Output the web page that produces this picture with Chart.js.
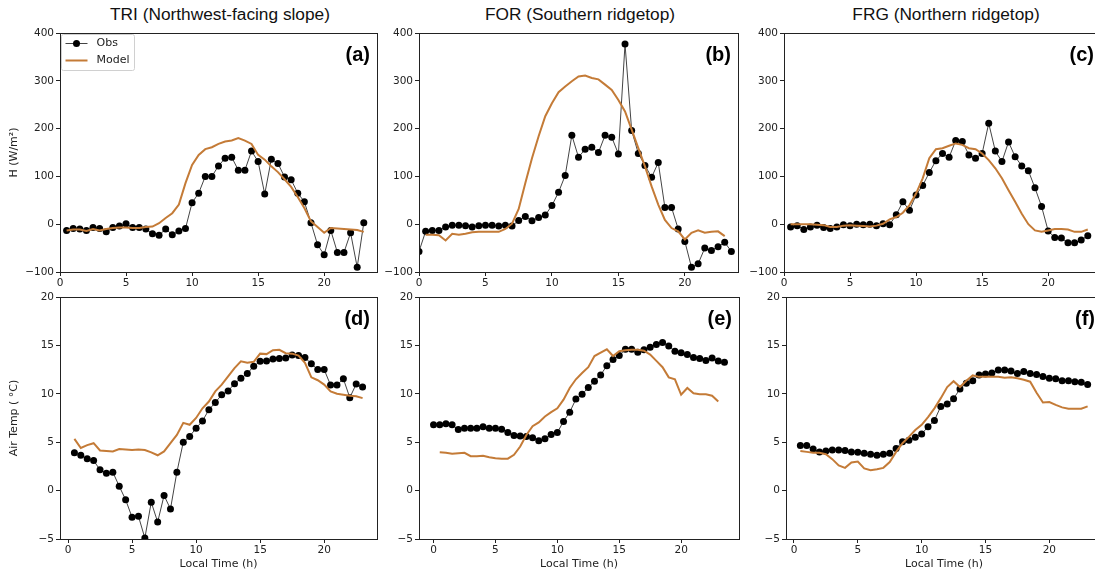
<!DOCTYPE html>
<html lang="en">
  <head>
    <meta charset="UTF-8" />
    <title>H and Air Temp - Obs vs Model</title>
    <script src="https://cdn.jsdelivr.net/npm/chart.js"></script>
    <style>
      body {
        margin: 0;
        width: 1095px;
        height: 574px;
        overflow: hidden;
        background: #fff;
        position: relative;
      }
      .titulo {
        position: absolute;
        top: 4px;
        width: 360px;
        text-align: center;
        font-family: "Liberation Sans", Arial, sans-serif;
        font-size: 17.3px;
        color: #111;
      }
      canvas {
        position: absolute;
      }
    </style>
  </head>
  <body>
    <div class="titulo" style="left: 40px">TRI (Northwest-facing slope)</div>
    <div class="titulo" style="left: 400px">FOR (Southern ridgetop)</div>
    <div class="titulo" style="left: 766px">FRG (Northern ridgetop)</div>

    <canvas id="chartA"></canvas>
    <canvas id="chartB"></canvas>
    <canvas id="chartC"></canvas>
    <canvas id="chartD"></canvas>
    <canvas id="chartE"></canvas>
    <canvas id="chartF"></canvas>
  </body>
</html>

<script>
  // local time (h), half hourly
  const hoursHalf = [0.5, 1, 1.5, 2, 2.5, 3, 3.5, 4, 4.5, 5, 5.5, 6, 6.5, 7, 7.5, 8, 8.5, 9, 9.5,
    10, 10.5, 11, 11.5, 12, 12.5, 13, 13.5, 14, 14.5, 15, 15.5, 16, 16.5, 17, 17.5, 18, 18.5, 19, 19.5,
    20, 20.5, 21, 21.5, 22, 22.5, 23];
  const hoursAll = [0, 0.5, 1, 1.5, 2, 2.5, 3, 3.5, 4, 4.5, 5, 5.5, 6, 6.5, 7, 7.5, 8, 8.5, 9, 9.5,
    10, 10.5, 11, 11.5, 12, 12.5, 13, 13.5, 14, 14.5, 15, 15.5, 16, 16.5, 17, 17.5, 18, 18.5, 19, 19.5,
    20, 20.5, 21, 21.5, 22, 22.5, 23, 23.5];

  // sensible heat flux H (W/m2)
  const obsHTri = [-13, -9, -10, -13, -7, -9, -16, -7, -4, 1, -7, -7, -10, -20, -23, -10, -22, -14, -9,
    45, 65, 100, 100, 122, 138, 140, 113, 113, 153, 131, 63, 136, 127, 99, 93, 65, 47, 3, -43,
    -64, -13, -59, -59, -18, -90, 3];
  const modelHTri = [-13, -11, -11, -14, -10, -13, -10, -8, -7, -7, -8, -8, -6, -5, 2, 13, 23, 41, 86,
    124, 145, 157, 161, 168, 173, 175, 180, 175, 168, 145, 135, 121, 109, 94, 78, 57, 34, 6, -6,
    -18, -8, -9, -10, -11, -12, -16];

  const obsHFor = [-57, -15, -13, -13, -6, -2, -2, -3, -6, -3, -2, -2, -4, -2, -4, 8, 16, 7, 14, 19,
    39, 67, 102, 186, 140, 157, 161, 150, 186, 182, 147, 377, 196, 148, 123, 98, 129, 35, 35, -10,
    -36, -90, -83, -50, -55, -47, -38, -57];
  const modelHFor = [-22, -22, -23, -34, -20, -22, -20, -17, -16, -16, -16, -16, -10, 1, 32, 86, 138, 184, 226,
    253, 276, 288, 299, 309, 311, 306, 303, 292, 281, 260, 236, 198, 159, 121, 79, 41, 9, -8, -15,
    -32, -18, -13, -18, -16, -15, -25];

  const obsHFrg = [-6, -3, -11, -6, -2, -7, -9, -6, -1, -3, 0, -1, 0, -3, 1, -1, 20, 47, 29,
    61, 81, 108, 133, 148, 140, 175, 173, 145, 138, 148, 211, 153, 131, 172, 141, 122, 112, 76, 37,
    -14, -28, -29, -39, -39, -33, -24];
  const modelHFrg = [0, 0, 0, 0, -1, -2, -6, -6, -3, -2, -3, -4, -5, -3, 1, 10, 15, 24, 40,
    64, 96, 138, 157, 159, 164, 169, 166, 159, 157, 148, 134, 117, 96, 71, 47, 22, 0, -13, -16,
    -13, -10, -10, -11, -16, -16, -11];

  // air temperature (C)
  const obsTTri = [3.9, 3.65, 3.3, 3.1, 2.15, 1.8, 1.9, 0.45, -0.95, -2.75, -2.65, -4.9, -1.2, -3.25, -0.5, -1.9, 1.9, 5.0, 5.6,
    6.45, 7.2, 8.35, 9.1, 9.9, 10.3, 11.05, 11.6, 12.1, 12.85, 13.35, 13.4, 13.6, 13.65, 13.7, 14.0, 13.95, 13.75, 13.1, 12.5,
    12.5, 10.9, 10.9, 11.55, 9.6, 11.0, 10.7];
  const modelTTri = [5.35, 4.4, 4.7, 4.9, 4.15, 4.1, 4.05, 4.3, 4.25, 4.2, 4.25, 4.2, 3.95, 3.65, 4.05, 4.9, 5.75, 7.0, 6.8,
    7.5, 8.5, 9.2, 10.25, 10.95, 11.8, 12.65, 13.35, 13.2, 13.3, 14.15, 14.1, 14.5, 14.55, 14.2, 14.15, 13.95, 13.2, 11.7, 11.4,
    10.95, 10.25, 10.0, 9.9, 9.8, 9.75, 9.55];

  const obsTFor = [6.8, 6.8, 6.9, 6.8, 6.3, 6.45, 6.45, 6.45, 6.6, 6.45, 6.45, 6.35, 6.0, 5.7, 5.65, 5.6, 5.45, 5.15, 5.35, 5.8,
    6.0, 7.15, 8.1, 9.45, 9.95, 10.65, 11.3, 11.95, 12.9, 13.55, 13.95, 14.6, 14.6, 14.3, 14.55, 14.8, 15.1, 15.3, 14.95, 14.4,
    14.25, 14.05, 13.75, 13.65, 13.45, 13.7, 13.4, 13.25];
  const modelTFor = [3.95, 3.9, 3.8, 3.85, 3.9, 3.55, 3.55, 3.6, 3.45, 3.35, 3.3, 3.3, 3.7, 4.55, 5.75, 6.65, 7.05, 7.65, 8.1,
    8.5, 9.4, 10.6, 11.5, 12.15, 12.75, 13.9, 14.25, 14.6, 13.9, 14.4, 14.5, 14.55, 14.55, 14.45, 14.05, 13.4, 12.75, 11.7, 11.5,
    9.9, 10.6, 10.05, 9.95, 9.95, 9.8, 9.2];

  const obsTFrg = [4.65, 4.65, 4.3, 4.0, 4.1, 4.2, 4.2, 4.15, 4.0, 3.95, 3.85, 3.75, 3.65, 3.75, 3.85, 4.35, 5.05, 5.2, 5.5,
    5.85, 6.6, 7.25, 8.7, 8.95, 9.5, 10.5, 11.1, 11.35, 11.95, 12.05, 12.15, 12.45, 12.45, 12.35, 12.1, 12.3, 12.1, 12.0, 11.8,
    11.6, 11.55, 11.35, 11.35, 11.25, 11.2, 10.95];
  const modelTFrg = [4.1, 4.0, 3.9, 3.9, 3.75, 3.25, 2.6, 2.35, 2.9, 3.0, 2.3, 2.1, 2.2, 2.35, 2.95, 4.0, 4.9, 5.55, 6.25,
    6.8, 7.6, 8.5, 9.55, 10.7, 11.3, 10.7, 11.35, 11.9, 11.75, 11.75, 11.75, 11.75, 11.65, 11.7, 11.6, 11.45, 11.25, 10.1, 9.1,
    9.15, 8.85, 8.6, 8.45, 8.45, 8.45, 8.7];

  const xTicks = [0, 5, 10, 15, 20];
  const hTicks = [-100, 0, 100, 200, 300, 400];
  const tTicks = [-5, 0, 5, 10, 15, 20];

  const corModel = "#c47b37";
  const corObs = "#000";
  const fonteEixo = "'DejaVu Sans', sans-serif";

  // left/top of each canvas; plot area starts 60px right and 10px below
  const paineis = [
    { id: "chartA", left: 0, top: 23, w: 381, h: 269, xMin: 0, xMax: 24, ticksY: hTicks,
      obsX: hoursHalf, obs: obsHTri, model: modelHTri, letra: "(a)", yTitle: "H (W/m\u00b2)", xTitle: "", legenda: true },
    { id: "chartB", left: 359, top: 23, w: 383, h: 269, xMin: 0, xMax: 24, ticksY: hTicks,
      obsX: hoursAll, obs: obsHFor, model: modelHFor, letra: "(b)", yTitle: "", xTitle: "" },
    { id: "chartC", left: 724, top: 23, w: 381, h: 269, xMin: 0, xMax: 24, ticksY: hTicks,
      obsX: hoursHalf, obs: obsHFrg, model: modelHFrg, letra: "(c)", yTitle: "", xTitle: "" },
    { id: "chartD", left: 0, top: 287, w: 381, h: 287, xMin: -0.625, xMax: 24.125, ticksY: tTicks,
      obsX: hoursHalf, obs: obsTTri, model: modelTTri, letra: "(d)", yTitle: "Air Temp ( \u00b0C)", xTitle: "Local Time (h)" },
    { id: "chartE", left: 359, top: 287, w: 384, h: 287, xMin: -1.175, xMax: 24.675, ticksY: tTicks,
      obsX: hoursAll, obs: obsTFor, model: modelTFor, letra: "(e)", yTitle: "", xTitle: "Local Time (h)" },
    { id: "chartF", left: 726, top: 287, w: 380, h: 287, xMin: -0.625, xMax: 24.125, ticksY: tTicks,
      obsX: hoursHalf, obs: obsTFrg, model: modelTFrg, letra: "(f)", yTitle: "", xTitle: "Local Time (h)" },
  ];

  function pares(xs, ys) {
    return ys.map(function (y, i) { return { x: xs[i], y: y }; });
  }

  function menos(v) {
    return String(v).replace("-", "\u2212");
  }

  // frame, panel letter and the legend of panel (a)
  const moldura = {
    id: "moldura",
    afterDraw: function (chart) {
      const ctx = chart.ctx;
      const ca = chart.chartArea;
      const op = chart.options.plugins.moldura;
      ctx.save();
      ctx.strokeStyle = "#222";
      ctx.lineWidth = 1;
      ctx.strokeRect(Math.round(ca.left) + 0.5, Math.round(ca.top) + 0.5,
        Math.round(ca.right - ca.left), Math.round(ca.bottom - ca.top));

      ctx.fillStyle = "#000";
      ctx.font = "bold 20px 'Liberation Sans', Arial, sans-serif";
      ctx.textAlign = "right";
      ctx.textBaseline = "middle";
      ctx.fillText(op.letra, ca.right - 7, ca.top + 22);

      if (op.legenda) {
        const x0 = ca.left + 1.5, y0 = ca.top + 1.5;
        ctx.fillStyle = "rgba(255,255,255,0.85)";
        ctx.strokeStyle = "#d0d0d0";
        ctx.beginPath();
        ctx.roundRect(x0, y0, 73, 36, 2);
        ctx.fill();
        ctx.stroke();

        ctx.strokeStyle = "#444";
        ctx.lineWidth = 1;
        ctx.beginPath();
        ctx.moveTo(x0 + 4, y0 + 9);
        ctx.lineTo(x0 + 26, y0 + 9);
        ctx.stroke();
        ctx.fillStyle = corObs;
        ctx.beginPath();
        ctx.arc(x0 + 15, y0 + 9, 3.5, 0, Math.PI * 2);
        ctx.fill();

        ctx.strokeStyle = corModel;
        ctx.lineWidth = 2;
        ctx.beginPath();
        ctx.moveTo(x0 + 4, y0 + 26);
        ctx.lineTo(x0 + 26, y0 + 26);
        ctx.stroke();

        ctx.fillStyle = "#222";
        ctx.font = "11px " + fonteEixo;
        ctx.textAlign = "left";
        ctx.fillText("Obs", x0 + 35, y0 + 9);
        ctx.fillText("Model", x0 + 35, y0 + 26);
      }
      ctx.restore();
    },
  };

  function plotarPainel(p) {
    const canvas = document.getElementById(p.id);
    canvas.width = p.w;
    canvas.height = p.h;
    canvas.style.left = p.left + "px";
    canvas.style.top = p.top + "px";

    const alturaX = p.xTitle ? p.h - 10 - 242 : p.h - 10 - 239;

    new Chart(canvas, {
      type: "line",
      data: {
        datasets: [
          {
            label: "Model",
            data: pares(hoursHalf, p.model),
            borderColor: corModel,
            borderWidth: 2,
            pointRadius: 0,
            tension: 0,
          },
          {
            label: "Obs",
            data: pares(p.obsX, p.obs),
            borderColor: "#444",
            borderWidth: 1,
            pointRadius: 3.5,
            pointBackgroundColor: corObs,
            pointBorderWidth: 0,
            tension: 0,
          },
        ],
      },
      plugins: [moldura],
      options: {
        responsive: false,
        animation: false,
        events: [],
        layout: { padding: { top: 10, right: 2, left: 0, bottom: 0 } },
        plugins: {
          legend: { display: false },
          tooltip: { enabled: false },
          moldura: { letra: p.letra, legenda: !!p.legenda },
        },
        scales: {
          x: {
            type: "linear",
            min: p.xMin,
            max: p.xMax,
            afterFit: function (s) { s.height = alturaX; },
            afterBuildTicks: function (s) {
              s.ticks = xTicks.map(function (v) { return { value: v }; });
            },
            grid: { drawOnChartArea: false, drawTicks: true, tickLength: 4, color: "#222" },
            border: { display: true, color: "#222" },
            ticks: {
              padding: 1,
              color: "#222",
              maxRotation: 0,
              font: { family: fonteEixo, size: 10.5 },
              callback: menos,
            },
            title: {
              display: !!p.xTitle,
              text: p.xTitle,
              color: "#222",
              padding: { top: 0, bottom: 3 },
              font: { family: fonteEixo, size: 11 },
            },
          },
          y: {
            type: "linear",
            min: p.ticksY[0],
            max: p.ticksY[p.ticksY.length - 1],
            afterFit: function (s) { s.width = 60; },
            afterBuildTicks: function (s) {
              s.ticks = p.ticksY.map(function (v) { return { value: v }; });
            },
            grid: { drawOnChartArea: false, drawTicks: true, tickLength: 4, color: "#222" },
            border: { display: true, color: "#222" },
            ticks: {
              padding: 2,
              color: "#222",
              font: { family: fonteEixo, size: 10.5 },
              callback: menos,
            },
            title: {
              display: !!p.yTitle,
              text: p.yTitle,
              color: "#222",
              padding: { top: 8, bottom: 0 },
              font: { family: fonteEixo, size: 11 },
            },
          },
        },
      },
    });
  }

  paineis.forEach(plotarPainel);
</script>
